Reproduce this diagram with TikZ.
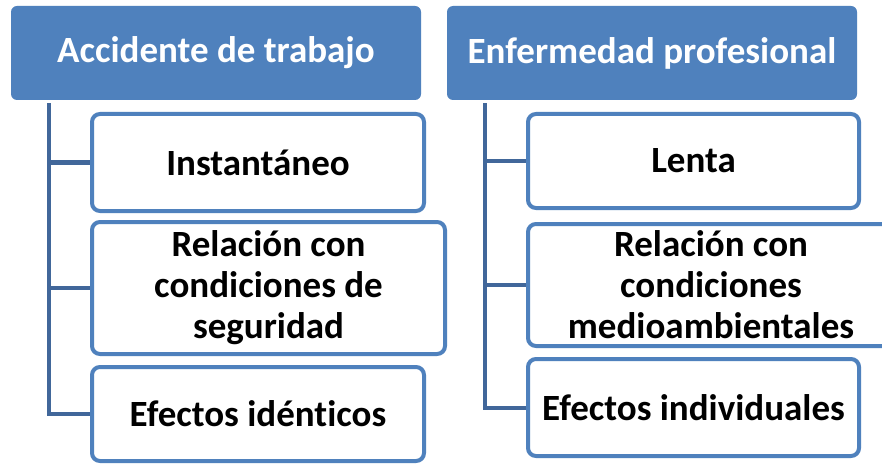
\documentclass[tikz,border=0pt]{standalone}
\usepackage{fontspec}
\setmainfont{Carlito}[Ligatures={NoCommon}]
\definecolor{hdrblue}{HTML}{4F81BD}
\definecolor{lineblue}{HTML}{41679A}
\tikzset{
  header/.style={rounded corners=6pt,fill=hdrblue,text=white,font=\fontsize{37}{44}\selectfont\bfseries,inner sep=0pt},
  item/.style={rounded corners=8pt,draw=hdrblue,line width=4pt,fill=white,font=\fontsize{37}{41}\selectfont\bfseries,align=center,inner sep=0pt},
  conn/.style={lineblue,line width=4pt}
}
\begin{document}
\begin{tikzpicture}[x=1pt,y=-1pt]
\useasboundingbox[fill=white] (0,0) rectangle (882,465);
% headers
\node[header,minimum width=410pt,minimum height=94pt] (acc) at (216,53) {Accidente de trabajo};
\node[header,minimum width=410pt,minimum height=94pt] (enf) at (652,53) {Enfermedad profesional};
% left column
\node[item,minimum width=332pt,minimum height=97pt] (inst) at (258,162.5) {Instant\'aneo};
\node[item,minimum width=353pt,minimum height=132pt] (seg) at (268.5,288) {Relaci\'on con\\condiciones de\\seguridad};
\node[item,minimum width=332pt,minimum height=94pt] (iden) at (258,414) {Efectos id\'enticos};
% right column
\node[item,minimum width=331pt,minimum height=94pt] (lenta) at (693.5,161) {Lenta};
\node[item,minimum width=366pt,minimum height=122pt] (medio) at (711,285) {Relaci\'on con\\condiciones\\medioambientales};
\node[item,minimum width=331pt,minimum height=97pt] (indiv) at (693.5,407.5) {Efectos individuales};
% connectors
\foreach \b in {inst,seg,iden}{
\draw[conn] ([xshift=38pt,yshift=-3pt]acc.south west) |- (\b.west);
}
\foreach \b in {lenta,medio,indiv}{
\draw[conn] ([xshift=38pt,yshift=-3pt]enf.south west) |- (\b.west);
}
\end{tikzpicture}
\end{document}
